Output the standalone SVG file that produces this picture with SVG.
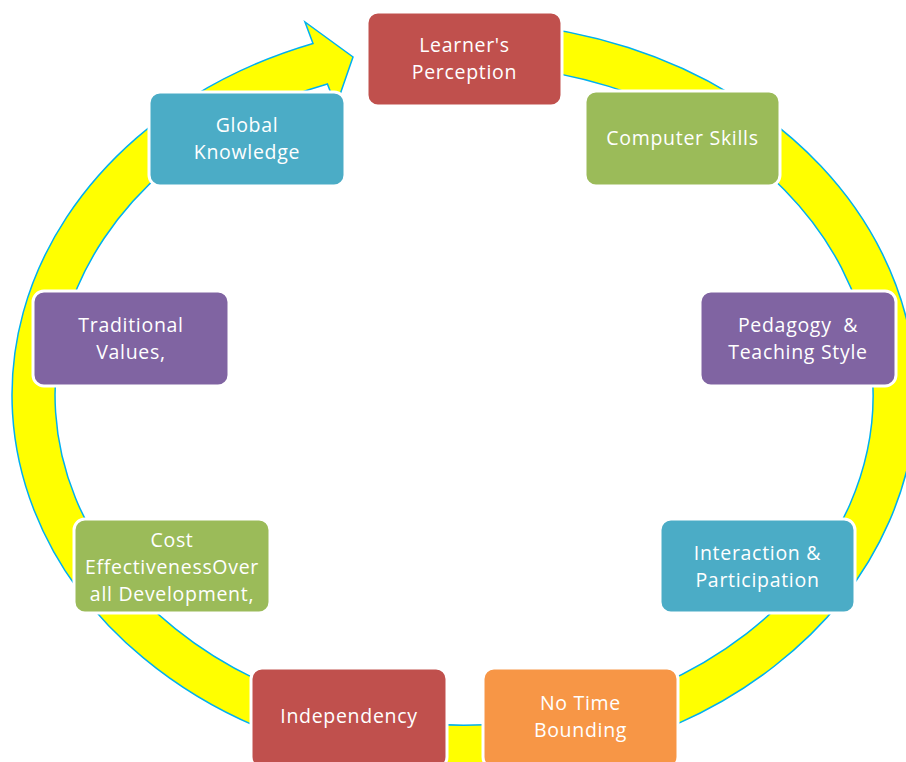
<svg xmlns="http://www.w3.org/2000/svg" width="906" height="762" viewBox="0 0 906 762">
<style>
.n{stroke:#FFFFFF;stroke-width:3}
.t{font-family:"Open Sans","Liberation Sans",sans-serif;font-size:19.5px;letter-spacing:0.7px;fill:#FFFFFF;text-anchor:middle}
.red{fill:#C0504D}.green{fill:#9BBB59}.purple{fill:#8064A2}.blue{fill:#4BACC6}.orange{fill:#F79646}
</style>
<rect width="906" height="762" fill="#FFFFFF"/>
<g id="connectors">
<path d="M420,23.77 A452,373 0 1 1 313,43.43 L305,22 L353,57 L336,106 L327.4,83.95 A409,330 0 1 0 420,66.91 Z" fill="#FFFF00" stroke="#00B0F0" stroke-width="1.5" stroke-linejoin="miter"/>
</g>
<g id="learners-perception">
<rect class="n red" x="367" y="12" width="195" height="94" rx="11"/>
<text class="t" x="464.5" y="52">Learner's<tspan x="464.5" dy="27">Perception</tspan></text>
</g>
<g id="computer-skills">
<rect class="n green" x="585" y="91" width="195" height="95" rx="11"/>
<text class="t" x="682.5" y="145">Computer Skills</text>
</g>
<g id="pedagogy">
<rect class="n purple" x="700" y="291" width="196" height="95" rx="11"/>
<text class="t" x="798" y="332" xml:space="preserve">Pedagogy  &amp;<tspan x="798" dy="27">Teaching Style</tspan></text>
</g>
<g id="interaction">
<rect class="n blue" x="660" y="519" width="195" height="94" rx="11"/>
<text class="t" x="757.5" y="560">Interaction &amp;<tspan x="757.5" dy="27">Participation</tspan></text>
</g>
<g id="no-time-bounding">
<rect class="n orange" x="483" y="668" width="195" height="100" rx="11"/>
<text class="t" x="580.5" y="710">No Time<tspan x="580.5" dy="27">Bounding</tspan></text>
</g>
<g id="independency">
<rect class="n red" x="251" y="668" width="196" height="100" rx="11"/>
<text class="t" x="349" y="723">Independency</text>
</g>
<g id="cost-effectiveness">
<rect class="n green" x="74" y="519" width="196" height="94" rx="11"/>
<text class="t" x="172" y="547">Cost<tspan x="172" dy="27">EffectivenessOver</tspan><tspan x="172" dy="27">all Development,</tspan></text>
</g>
<g id="traditional-values">
<rect class="n purple" x="33" y="291" width="196" height="95" rx="11"/>
<text class="t" x="131" y="332">Traditional<tspan x="131" dy="27">Values,</tspan></text>
</g>
<g id="global-knowledge">
<rect class="n blue" x="149" y="92" width="196" height="94" rx="11"/>
<text class="t" x="247" y="132">Global<tspan x="247" dy="27">Knowledge</tspan></text>
</g>
</svg>
